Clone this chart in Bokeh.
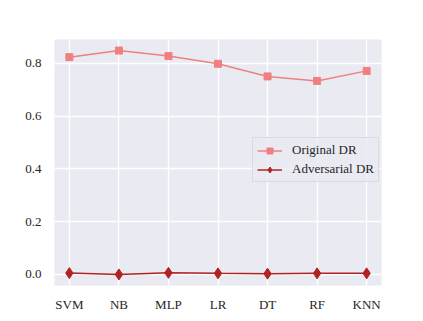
from bokeh.plotting import figure
from bokeh.models import ColumnDataSource, FixedTicker, Range1d, Legend, LegendItem
from bokeh.embed import file_html
from bokeh.resources import INLINE

models = ["SVM", "NB", "MLP", "LR", "DT", "RF", "KNN"]
original_dr = [0.824, 0.849, 0.828, 0.799, 0.751, 0.734, 0.772]
adversarial_dr = [0.005, 0.000, 0.006, 0.004, 0.003, 0.004, 0.004]
y_ticks = [0.0, 0.2, 0.4, 0.6, 0.8]

xs = list(range(len(models)))
src = ColumnDataSource(dict(x=xs, orig=original_dr, adv=adversarial_dr))

FONT = "Liberation Serif"
BG = "#EAEAF2"

p = figure(width=415, height=313, frame_width=327, frame_height=246,
           min_border_left=54, min_border_right=34, min_border_top=39, min_border_bottom=28,
           output_backend="svg", toolbar_location=None,
           x_range=Range1d(-0.3, 6.3), y_range=Range1d(-0.042, 0.891))
p.background_fill_color = BG
p.border_fill_color = "white"
p.outline_line_color = None

for ax in (p.xaxis, p.yaxis):
    ax.axis_line_color = None
    ax.major_tick_line_color = None
    ax.minor_tick_line_color = None
    ax.major_label_text_font = FONT
    ax.major_label_text_font_size = "13px"
    ax.major_label_text_color = "#262626"

p.xaxis.ticker = FixedTicker(ticks=xs)
p.xaxis.major_label_overrides = {i: m for i, m in enumerate(models)}
p.xaxis.major_label_standoff = 5
p.yaxis.ticker = FixedTicker(ticks=y_ticks)
p.yaxis.major_label_overrides = {t: f"{t:.1f}" for t in y_ticks}
p.yaxis.major_label_standoff = 7

p.grid.grid_line_color = "white"
p.grid.grid_line_width = 1.3

l1 = p.line("x", "orig", source=src, line_color="#F08080", line_width=1.5)
m1 = p.scatter("x", "orig", source=src, marker="square", size=7, fill_color="#F08080", line_color="#F08080")
l2 = p.line("x", "adv", source=src, line_color="#B22222", line_width=1.5)
m2 = p.scatter("x", "adv", source=src, marker="diamond", size=11, fill_color="#B22222", line_color="#B22222")

legend = Legend(items=[LegendItem(label="Original DR", renderers=[l1, m1]),
                       LegendItem(label="Adversarial DR", renderers=[l2, m2])],
                location=(198, 103))
legend.label_text_font = FONT
legend.label_text_font_size = "13px"
legend.label_text_color = "#262626"
legend.background_fill_color = BG
legend.background_fill_alpha = 0.8
legend.border_line_color = "#CCCCCC"
legend.border_line_width = 1
legend.padding = 4
legend.spacing = 3
legend.margin = 0
legend.glyph_width = 25
legend.glyph_height = 15
legend.label_height = 15
legend.label_standoff = 10
p.add_layout(legend, "center")

open("out.html", "w").write(file_html(p, INLINE))
